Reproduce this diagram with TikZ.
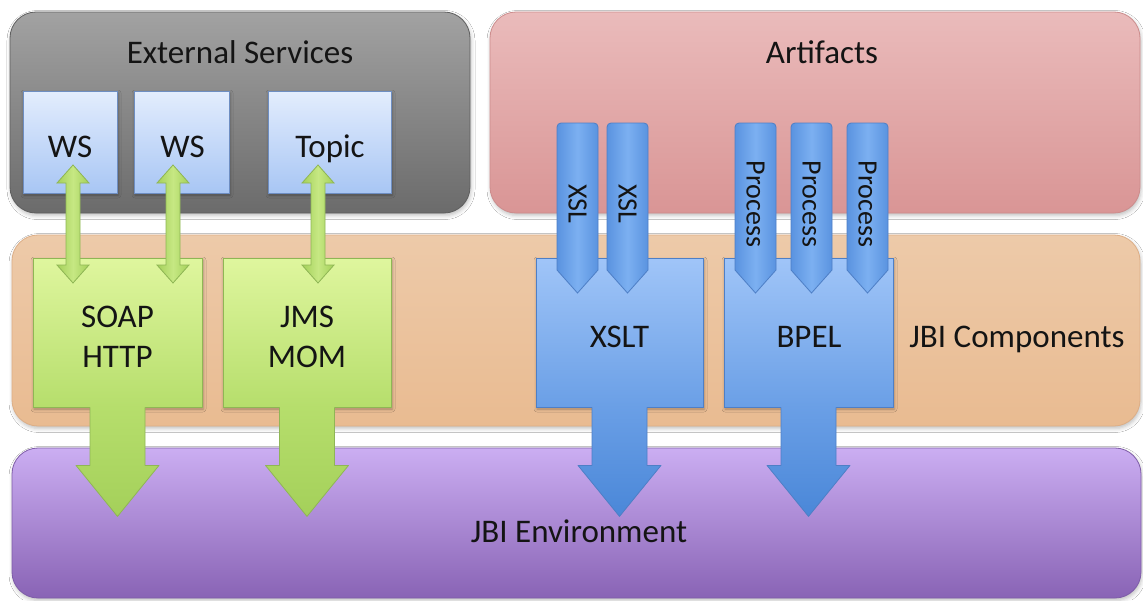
\documentclass[tikz,border=0pt]{standalone}
\usepackage{fontspec}
\setmainfont{Carlito}
\usetikzlibrary{calc,shadows.blur}

\definecolor{txt}{HTML}{141414}
\definecolor{gryT}{HTML}{A2A2A2}
\definecolor{gryB}{HTML}{6B6B6B}
\definecolor{gryD}{HTML}{5E5E5E}
\definecolor{pnkT}{HTML}{EABBBB}
\definecolor{pnkB}{HTML}{D99595}
\definecolor{pnkD}{HTML}{CC8C8C}
\definecolor{orgT}{HTML}{EDCAA9}
\definecolor{orgB}{HTML}{E9BB91}
\definecolor{orgD}{HTML}{DDAE86}
\definecolor{purT}{HTML}{CBAEF2}
\definecolor{purB}{HTML}{8963B5}
\definecolor{purD}{HTML}{7E5CA8}
\definecolor{wsT}{HTML}{E3EDFD}
\definecolor{wsB}{HTML}{A8C6F4}
\definecolor{wsD}{HTML}{6E8EC2}
\definecolor{grnT}{HTML}{DFF69E}
\definecolor{grnB}{HTML}{B6DE6C}
\definecolor{grnA}{HTML}{A4D05A}
\definecolor{grnD}{HTML}{8FB655}
\definecolor{grnM}{HTML}{C6E883}
\definecolor{bluT}{HTML}{A0C5F8}
\definecolor{bluB}{HTML}{6A9FE6}
\definecolor{bluA}{HTML}{4A87D8}
\definecolor{bluD}{HTML}{4E7FC6}
\definecolor{chvM}{HTML}{7CB0F1}
\definecolor{chvS}{HTML}{5A93E0}

\tikzset{
  layer/.style={rectangle, rounded corners=26pt, inner sep=0pt, line width=0.8pt,
    blur shadow={shadow xshift=1pt, shadow yshift=-2.5pt, shadow opacity=25, shadow blur radius=4pt}},
  card/.style={rectangle, inner sep=0pt, line width=0.8pt,
    blur shadow={shadow xshift=1pt, shadow yshift=-2pt, shadow opacity=30, shadow blur radius=3pt}},
  lbl/.style={text=txt, font=\fontsize{33}{40}\selectfont, inner sep=0pt, align=center},
  vlbl/.style={text=txt, font=\fontsize{28}{30}\selectfont, inner sep=0pt, rotate=-90},
  wsbox/.style={card, draw=wsD, top color=wsT, bottom color=wsB},
  grnbox/.style={card, draw=grnD, top color=grnT, bottom color=grnB},
  blubox/.style={card, draw=bluD, top color=bluT, bottom color=bluB},
}

% two-headed link between two tip coordinates
\newcommand\twoway[2]{%
  \shadedraw[draw=grnD, line width=0.8pt, left color=grnA, right color=grnA, middle color=grnM]
    let \p1=(#1), \p2=(#2) in
    (\x1-7pt,\y1-18pt) -- (\x1-16pt,\y1-18pt) -- (\x1,\y1) -- (\x1+16pt,\y1-18pt) --
    (\x1+7pt,\y1-18pt) -- (\x2+7pt,\y2+18pt) -- (\x2+16pt,\y2+18pt) -- (\x2,\y2) --
    (\x2-16pt,\y2+18pt) -- (\x2-7pt,\y2+18pt) -- cycle;}

% wide arrow leaving the bottom of a component box
\newcommand\outflow[4]{%
  \shade[top color=#2, bottom color=#3]
    let \p1=(#1.south) in
    (\x1-27.5pt,\y1+0.6pt) -- (\x1-27.5pt,\y1-58pt) -- (\x1-41.5pt,\y1-58pt) --
    (\x1,\y1-109pt) -- (\x1+41.5pt,\y1-58pt) -- (\x1+27.5pt,\y1-58pt) --
    (\x1+27.5pt,\y1+0.6pt) -- cycle;
  \draw[#4, line width=0.8pt, line join=round]
    let \p1=(#1.south) in
    (\x1-27.5pt,\y1) -- (\x1-27.5pt,\y1-58pt) -- (\x1-41.5pt,\y1-58pt) --
    (\x1,\y1-109pt) -- (\x1+41.5pt,\y1-58pt) -- (\x1+27.5pt,\y1-58pt) --
    (\x1+27.5pt,\y1);}

% narrow pointer carrying an artifact into its component
\newcommand\chev[3]{%
  \shadedraw[draw=bluD, line width=0.8pt, left color=chvS, right color=chvS, middle color=chvM]
    ({#1},200) [rounded corners=4pt] -- ({#1},123) -- ({#1+41},123) [sharp corners] --
    ({#1+41},270) -- ({#1+20.5},293) -- ({#1},270) -- cycle;
  \node[vlbl] (#2) at ({#1+20.5},204) {#3};}

\begin{document}
\begin{tikzpicture}[x=1pt, y=-1pt]
  \fill[white] (0,0) rectangle (1143,600);
  \useasboundingbox (0,0) rectangle (1143,600);

  % layers
  \node[layer, draw=gryD, top color=gryT, bottom color=gryB,
        minimum width=460pt, minimum height=201pt] (ext) at (240,112.5) {};
  \node[layer, draw=pnkD, top color=pnkT, bottom color=pnkB,
        minimum width=650pt, minimum height=201pt] (art) at (815,112.5) {};
  \node[layer, draw=orgD, top color=orgT, bottom color=orgB,
        minimum width=1128pt, minimum height=191pt] (comp) at (576,330.5) {};
  \node[layer, draw=purD, top color=purT, bottom color=purB,
        minimum width=1129pt, minimum height=150pt] (env) at (576.5,523) {};

  \node[lbl, anchor=base] (extT) at (240,63) {External Services};
  \node[lbl, anchor=base] (artT) at (822,63) {Artifacts};
  \node[lbl, anchor=base] (compT) at (1017,347) {JBI Components};

  % external services
  \node[wsbox, minimum width=94pt, minimum height=102pt] (ws1) at (70,142) {};
  \node[wsbox, minimum width=95pt, minimum height=102pt] (ws2) at (181.5,142) {};
  \node[wsbox, minimum width=123pt, minimum height=102pt] (topic) at (329.5,142) {};
  \node[lbl, anchor=base] (ws1T) at (70,157) {WS};
  \node[lbl, anchor=base] (ws2T) at (182.5,157) {WS};
  \node[lbl, anchor=base] (topicT) at (330,157) {Topic};

  % binding components
  \node[grnbox, minimum width=169pt, minimum height=149pt] (soap) at (117.5,332.5) {};
  \node[grnbox, minimum width=168pt, minimum height=149pt] (jms) at (307,332.5) {};
  \node[lbl] (soapT) at (117.5,337) {SOAP\\HTTP};
  \node[lbl] (jmsT) at (307,337) {JMS\\MOM};
  \outflow{soap}{grnB}{grnA}{grnD}
  \outflow{jms}{grnB}{grnA}{grnD}

  \coordinate (l1a) at (73,165);  \coordinate (l1b) at (73,283);
  \coordinate (l2a) at (173,165); \coordinate (l2b) at (173,283);
  \coordinate (l3a) at (318,165); \coordinate (l3b) at (318,283);
  \twoway{l1a}{l1b}
  \twoway{l2a}{l2b}
  \twoway{l3a}{l3b}

  % service engines
  \node[blubox, minimum width=167pt, minimum height=149pt] (xslt) at (619.5,332.5) {};
  \node[blubox, minimum width=169pt, minimum height=149pt] (bpel) at (808.5,332.5) {};
  \node[lbl, anchor=base] (xsltT) at (619.5,347) {XSLT};
  \node[lbl, anchor=base] (bpelT) at (809,347) {BPEL};
  \outflow{xslt}{bluB}{bluA}{bluD}
  \outflow{bpel}{bluB}{bluA}{bluD}

  \chev{557}{xsl1}{XSL}
  \chev{607}{xsl2}{XSL}
  \chev{735}{pr1}{Process}
  \chev{791}{pr2}{Process}
  \chev{847}{pr3}{Process}

  \node[lbl, anchor=base] (envT) at (579,542) {JBI Environment};
\end{tikzpicture}
\end{document}
